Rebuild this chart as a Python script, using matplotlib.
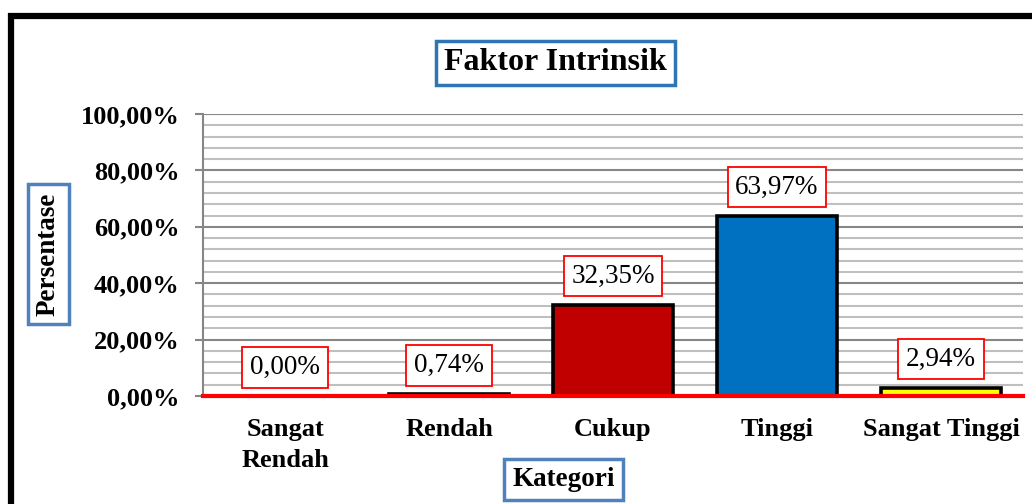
import numpy as np
import matplotlib.pyplot as plt
from matplotlib.patches import Rectangle

categories = ["Sangat\nRendah", "Rendah", "Cukup", "Tinggi", "Sangat Tinggi"]
values = [0.00, 0.74, 32.35, 63.97, 2.94]
colors = ["#000000", "#000000", "#C00000", "#0070C0", "#FFFF00"]
yticks = [0, 20, 40, 60, 80, 100]

plt.rcParams['font.family'] = ['Liberation Serif', 'DejaVu Serif']


def pctLabel(v):
    return ("%.2f" % v).replace(".", ",") + "%"


def drawBars():
    xs = np.arange(len(categories))
    plt.bar(xs, values, width=0.73, color=colors, edgecolor="black", linewidth=2.6, zorder=3)
    for x, v in zip(xs, values):
        plt.annotate(pctLabel(v), (x, v), xytext=(0, 20.5), textcoords="offset points",
                     ha="center", va="center", fontsize=19.5, zorder=5,
                     bbox=dict(boxstyle="square,pad=0.28", fc="white", ec="#FF0000", lw=1.3))
    plt.axhline(0, color="#FF0000", linewidth=3, zorder=4, clip_on=False)
    return xs


def styleAxes(xs):
    ax = plt.gca()
    plt.xlim(-0.5, len(categories) - 0.5)
    plt.ylim(0, 100)
    plt.yticks(yticks, [pctLabel(t) for t in yticks], fontsize=19, fontweight="bold")
    plt.xticks(xs, categories, fontsize=19, fontweight="bold", linespacing=1.45)
    ax.set_yticks(np.arange(0, 101, 4), minor=True)
    ax.tick_params(axis="y", which="major", length=6, width=1.5, color="#868686", pad=11)
    ax.tick_params(axis="y", which="minor", length=0)
    ax.tick_params(axis="x", length=0, pad=16)
    ax.grid(axis="y", which="minor", color="#BFBFBF", linewidth=1.5, zorder=0)
    ax.grid(axis="y", which="major", color="#868686", linewidth=1.5, zorder=0)
    ax.set_axisbelow(True)
    for side in ["top", "right", "bottom"]:
        ax.spines[side].set_visible(False)
    ax.spines["left"].set_color("#868686")
    ax.spines["left"].set_linewidth(1.5)


def decorate(fig):
    box = dict(boxstyle="square,pad=0.25", fc="white", ec="#2E75B6", lw=2.5)
    fig.text(0.538, 0.875, "Faktor Intrinsik", ha="center", va="center",
             fontsize=23, fontweight="bold", bbox=box)
    box2 = dict(boxstyle="square,pad=0.3", fc="white", ec="#4F81BD", lw=2.5)
    fig.text(0.047, 0.496, "Persentase", ha="center", va="center", rotation=90,
             fontsize=19.5, fontweight="bold", bbox=box2)
    fig.text(0.546, 0.048, "Kategori", ha="center", va="center",
             fontsize=19.5, fontweight="bold", bbox=box2)
    fig.patches.append(Rectangle((11 / 1032, -0.5), 2.0, 0.5 + 1 - 16 / 504,
                                 transform=fig.transFigure, fill=False,
                                 edgecolor="black", linewidth=4.5, clip_on=False))


def main():
    fig = plt.figure(figsize=(10.32, 5.04), dpi=100)
    fig.add_axes([203 / 1032, 1 - 396 / 504, 820 / 1032, 282 / 504])
    xs = drawBars()
    styleAxes(xs)
    decorate(fig)
    plt.savefig("out.png", dpi=100)


if __name__ == '__main__':
    main()
